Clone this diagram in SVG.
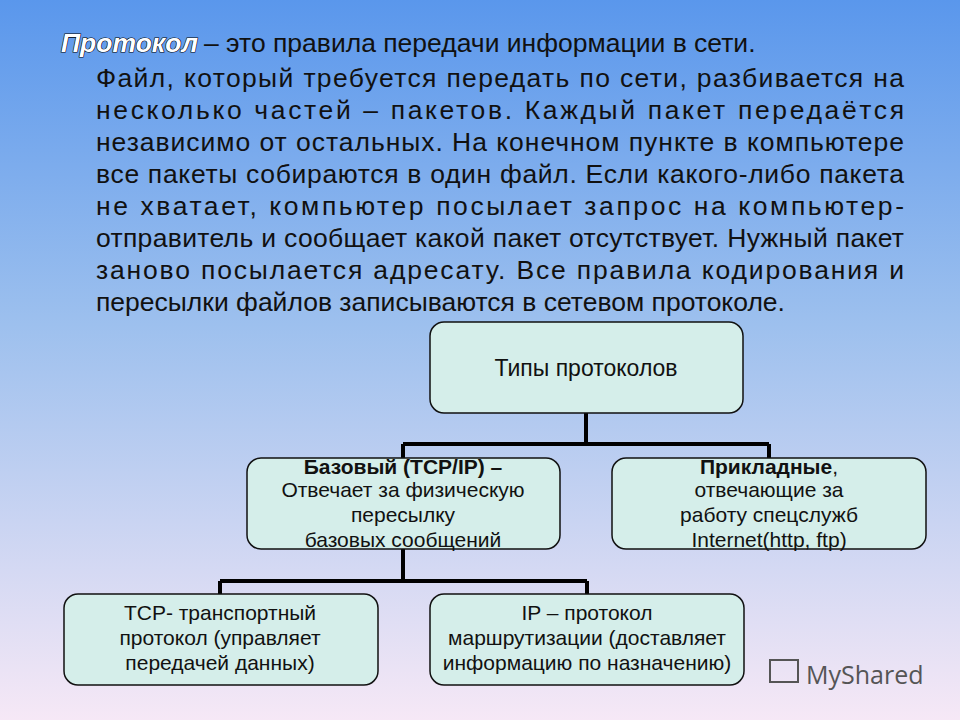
<svg xmlns="http://www.w3.org/2000/svg" width="960" height="720" viewBox="0 0 960 720">
<defs>
<linearGradient id="bg" x1="0" y1="0" x2="0" y2="1">
<stop offset="0" stop-color="#5a97ec"/><stop offset="0.45" stop-color="#9dc0ee"/><stop offset="1" stop-color="#f6e8f6"/>
</linearGradient>
<style>
.t{font-family:"Liberation Sans",Arial,sans-serif;font-size:26.5px;fill:#111}
.n{fill:#d5eeea;stroke:#111;stroke-width:1.5}
.l{font-family:"Liberation Sans",Arial,sans-serif;font-size:21px;fill:#111;text-anchor:middle}
.c{stroke:#000;stroke-width:4;fill:none}
</style>
</defs>
<rect width="960" height="720" fill="url(#bg)"/>
<g id="text">
<text x="61" y="52" class="t" style="font-weight:bold;font-style:italic;fill:#fff;stroke:#000;stroke-width:1.2;paint-order:stroke">Протокол</text>
<text x="204" y="52" class="t">– это правила передачи информации в сети.</text>
<text x="96" y="87" class="t" textLength="808" lengthAdjust="spacing">Файл, который требуется передать по сети, разбивается на</text>
<text x="96" y="119" class="t" textLength="808" lengthAdjust="spacing">несколько частей – пакетов. Каждый пакет передаётся</text>
<text x="96" y="151" class="t" textLength="808" lengthAdjust="spacing">независимо от остальных. На конечном пункте в компьютере</text>
<text x="96" y="183" class="t" textLength="808" lengthAdjust="spacing">все пакеты собираются в один файл. Если какого-либо пакета</text>
<text x="96" y="215" class="t" textLength="808" lengthAdjust="spacing">не хватает, компьютер посылает запрос на компьютер-</text>
<text x="96" y="247" class="t" textLength="808" lengthAdjust="spacing">отправитель и сообщает какой пакет отсутствует. Нужный пакет</text>
<text x="96" y="279" class="t" textLength="808" lengthAdjust="spacing">заново посылается адресату. Все правила кодирования и</text>
<text x="96" y="311" class="t">пересылки файлов записываются в сетевом протоколе.</text>
</g>
<g id="connectors">
<path class="c" d="M586 412V444M403 444H769M403 444V460M769 444V460M403 549V581M220 581H587M220 581V596M587 581V596"/>
</g>
<g id="n1"><rect class="n" x="430" y="322" width="313" height="91" rx="14"/><text class="l" x="586" y="376" style="font-size:23px">Типы протоколов</text></g>
<g id="n2"><rect class="n" x="247" y="458" width="313" height="91" rx="14"/>
<text class="l" x="403" y="474"><tspan font-weight="bold">Базовый (TCP/IP) –</tspan></text>
<text class="l" x="403" y="497">Отвечает за физическую</text>
<text class="l" x="403" y="522">пересылку</text>
<text class="l" x="403" y="547">базовых сообщений</text></g>
<g id="n3"><rect class="n" x="612" y="458" width="314" height="91" rx="14"/>
<text class="l" x="769" y="474"><tspan font-weight="bold">Прикладные</tspan>,</text>
<text class="l" x="769" y="497">отвечающие за</text>
<text class="l" x="769" y="522">работу спецслужб</text>
<text class="l" x="769" y="547">Internet(http, ftp)</text></g>
<g id="n4"><rect class="n" x="64" y="594" width="314" height="91" rx="14"/>
<text class="l" x="220" y="620">TCP- транспортный</text>
<text class="l" x="220" y="645">протокол (управляет</text>
<text class="l" x="220" y="670">передачей данных)</text></g>
<g id="n5"><rect class="n" x="430" y="594" width="314" height="91" rx="14"/>
<text class="l" x="587" y="620">IP – протокол</text>
<text class="l" x="587" y="645">маршрутизации (доставляет</text>
<text class="l" x="587" y="670">информацию по назначению)</text></g>
<g id="logo"><rect x="770" y="660" width="28" height="22" fill="none" stroke="#555" stroke-width="2"/>
<text x="806" y="684" style="font-family:'Open Sans',sans-serif;font-size:25px;fill:#555">MyShared</text></g>
</svg>
